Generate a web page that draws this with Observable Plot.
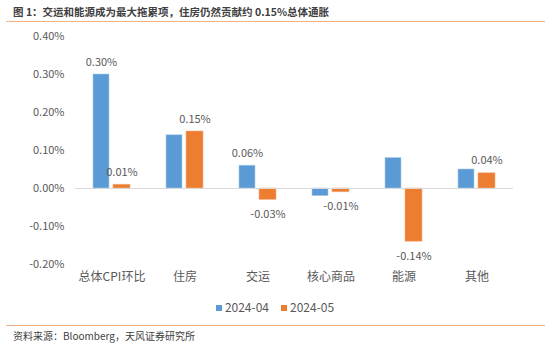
<!DOCTYPE html>
<html>
<head>
<meta charset="utf-8">
<script src="https://cdn.jsdelivr.net/npm/d3@7"></script>
<script src="https://cdn.jsdelivr.net/npm/@observablehq/plot@0.6"></script>
<style>
  html, body { margin: 0; padding: 0; background: #fff; }
  #wrap { position: relative; width: 550px; height: 346px; overflow: hidden; font-family: "Noto Sans CJK SC", "Noto Sans", sans-serif; }
  #title { position: absolute; left: 13px; top: 4px; font-size: 10.5px; font-weight: bold; color: #404040; white-space: nowrap; }
  .rule { position: absolute; left: 6px; width: 539px; height: 0; border-top: 1.5px solid #F4B183; }
  #legend { position: absolute; top: 298px; left: 0; width: 550px; text-align: center; font-size: 12px; color: #595959; }
  #legend span.item { display: inline-block; margin: 0 6px; }
  #legend i { display: inline-block; width: 6px; height: 6px; margin-right: 3px; vertical-align: middle; position: relative; top: -1px; }
  #source { position: absolute; left: 13px; top: 328px; font-size: 10px; color: #404040; white-space: nowrap; }
  #chart { position: absolute; left: 0; top: 0; }
</style>
</head>
<body>
<div id="wrap">
  <div id="chart"></div>
  <div id="title">图 1：交运和能源成为最大拖累项，住房仍然贡献约 0.15%总体通胀</div>
  <div class="rule" style="top:21px"></div>
  <div id="legend"></div>
  <div class="rule" style="top:325px"></div>
  <div id="source">资料来源：Bloomberg，天风证券研究所</div>
</div>
<script>
const categories = ["总体CPI环比", "住房", "交运", "核心商品", "能源", "其他"];
const seriesNames = ["2024-04", "2024-05"];
const values0424 = [0.30, 0.14, 0.06, -0.02, 0.08, 0.05];
const values0524 = [0.01, 0.15, -0.03, -0.01, -0.14, 0.04];
const labeled0424 = ["总体CPI环比", "交运"];
const yTicks = [-0.2, -0.1, 0, 0.1, 0.2, 0.3, 0.4];
const colors = ["#5B9BD5", "#ED7D31"];

const d04 = categories.map((c, i) => ({cat: c, v: values0424[i]}));
const d05 = categories.map((c, i) => ({cat: c, v: values0524[i]}));
const fmt = v => v.toFixed(2) + "%";
const lab04 = d04.filter(d => labeled0424.includes(d.cat));

const textStyle = {fill: "#595959", fontSize: 11};

const chart = Plot.plot({
  width: 550,
  height: 346,
  marginLeft: 75,
  marginRight: 37,
  marginTop: 36,
  marginBottom: 82,
  style: {fontFamily: "'Noto Sans CJK SC', 'Noto Sans', sans-serif", background: "transparent"},
  x: {domain: categories, padding: 0, label: null, tickSize: 0, tickPadding: 9},
  y: {domain: [-0.2, 0.4], ticks: yTicks, tickFormat: fmt, label: null, tickSize: 0, tickPadding: 11},
  marks: [
    Plot.axisY({ticks: yTicks, tickFormat: fmt, tickSize: 0, tickPadding: 11, fill: "#595959", fontSize: 11, label: null}),
    Plot.axisX({tickSize: 0, tickPadding: 8, fill: "#595959", fontSize: 12, label: null}),
    Plot.barY(d04, {x: "cat", y: "v", fill: colors[0], insetLeft: 18, insetRight: 39, stroke: "#A9CBEA", strokeWidth: 0.6}),
    Plot.barY(d05, {x: "cat", y: "v", fill: colors[1], insetLeft: 38, insetRight: 18, stroke: "#F4B183", strokeWidth: 0.6}),
    Plot.ruleY([0], {stroke: "#D9D9D9", strokeWidth: 1.2}),
    Plot.text(lab04.filter(d => d.v >= 0), {x: "cat", y: "v", text: d => fmt(d.v), dx: -10.5, dy: -9, lineAnchor: "bottom", ...textStyle}),
    Plot.text(lab04.filter(d => d.v < 0), {x: "cat", y: "v", text: d => fmt(d.v), dx: -10.5, dy: 10, lineAnchor: "top", ...textStyle}),
    Plot.text(d05.filter(d => d.v >= 0), {x: "cat", y: "v", text: d => fmt(d.v), dx: 10, dy: -9, lineAnchor: "bottom", ...textStyle}),
    Plot.text(d05.filter(d => d.v < 0), {x: "cat", y: "v", text: d => fmt(d.v), dx: 10, dy: 10, lineAnchor: "top", ...textStyle})
  ]
});
document.getElementById("chart").appendChild(chart);

const legend = document.getElementById("legend");
seriesNames.forEach((s, i) => {
  const item = document.createElement("span");
  item.className = "item";
  const sw = document.createElement("i");
  sw.style.background = colors[i];
  item.appendChild(sw);
  item.appendChild(document.createTextNode(s));
  legend.appendChild(item);
});
</script>
</body>
</html>
